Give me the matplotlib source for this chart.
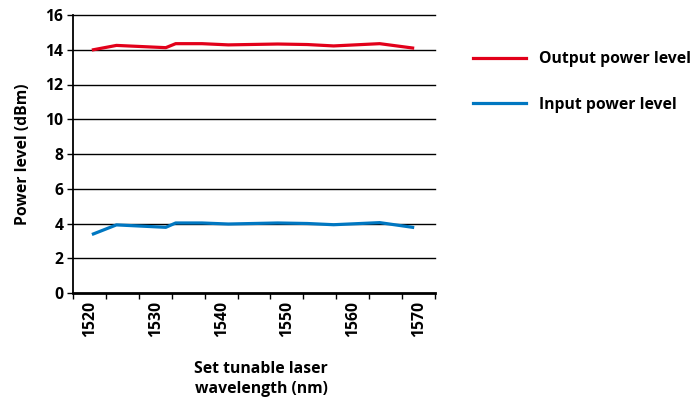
import matplotlib
matplotlib.use("Agg")
import matplotlib.pyplot as plt
from matplotlib.lines import Line2D

plt.rcParams['font.family'] = ['Open Sans', 'DejaVu Sans']
plt.rcParams['font.weight'] = 'bold'

wavelength = [1520.5, 1524, 1531.5, 1533, 1537, 1541, 1548.5, 1553, 1557, 1564, 1569]
output_power = [14.0, 14.25, 14.12, 14.35, 14.35, 14.28, 14.33, 14.3, 14.22, 14.35, 14.1]
input_power = [3.4, 3.92, 3.78, 4.03, 4.03, 3.97, 4.03, 4.0, 3.93, 4.05, 3.78]
x_labels = [1520, 1530, 1540, 1550, 1560, 1570]
y_ticks = [0, 2, 4, 6, 8, 10, 12, 14, 16]
series_names = ["Output power level", "Input power level"]
colors = ["#e2001a", "#0077c1"]

FS = 11.3

fig = plt.figure(figsize=(6.92, 4.04), dpi=100)
ax = fig.add_axes([73/692, (404-293)/404, (435-73)/692, (293-15)/404])

ax.plot(wavelength, output_power, color=colors[0], lw=2.3, solid_joinstyle='round')
ax.plot(wavelength, input_power, color=colors[1], lw=2.3, solid_joinstyle='round')

xmin, xmax = 1517.4, 1572.4
ax.set_xlim(xmin, xmax)
ax.set_ylim(0, 16)
ax.set_yticks(y_ticks)
ax.set_yticklabels([str(v) for v in y_ticks], fontsize=FS, fontweight='bold')
for v in y_ticks[1:]:
    ax.axhline(v, color='black', lw=1.0, zorder=0.5, clip_on=False)

ax.set_xticks(x_labels)
ax.set_xticklabels([str(v) for v in x_labels], rotation=90, fontsize=FS, fontweight='bold')
ax.tick_params(axis='x', which='major', length=0, pad=6)
minor = [xmin + 5.0 * i for i in range(12)]
ax.set_xticks(minor, minor=True)
ax.tick_params(axis='x', which='minor', length=4, width=1, direction='out')
ax.tick_params(axis='y', length=4, width=1, direction='out', pad=3)

for s in ['top', 'right']:
    ax.spines[s].set_visible(False)
ax.spines['left'].set_linewidth(1.3)
ax.spines['bottom'].set_linewidth(2.0)

ax.set_ylabel("Power level (dBm)", fontsize=FS, fontweight='bold', labelpad=10)
fig.text(261/692, 1 - 379/404, "Set tunable laser\nwavelength (nm)", ha='center', va='center',
         fontsize=FS, fontweight='bold', linespacing=1.4)

handles = [Line2D([], [], color=c, lw=2.3) for c in colors]
fig.legend(handles, series_names, loc='upper left', bbox_to_anchor=(459/692, 1 - 37/404),
           frameon=False, handlelength=3.4, handletextpad=0.8,
           labelspacing=1.9, prop={'weight': 'bold', 'size': FS})

fig.savefig("out.png", dpi=100)
